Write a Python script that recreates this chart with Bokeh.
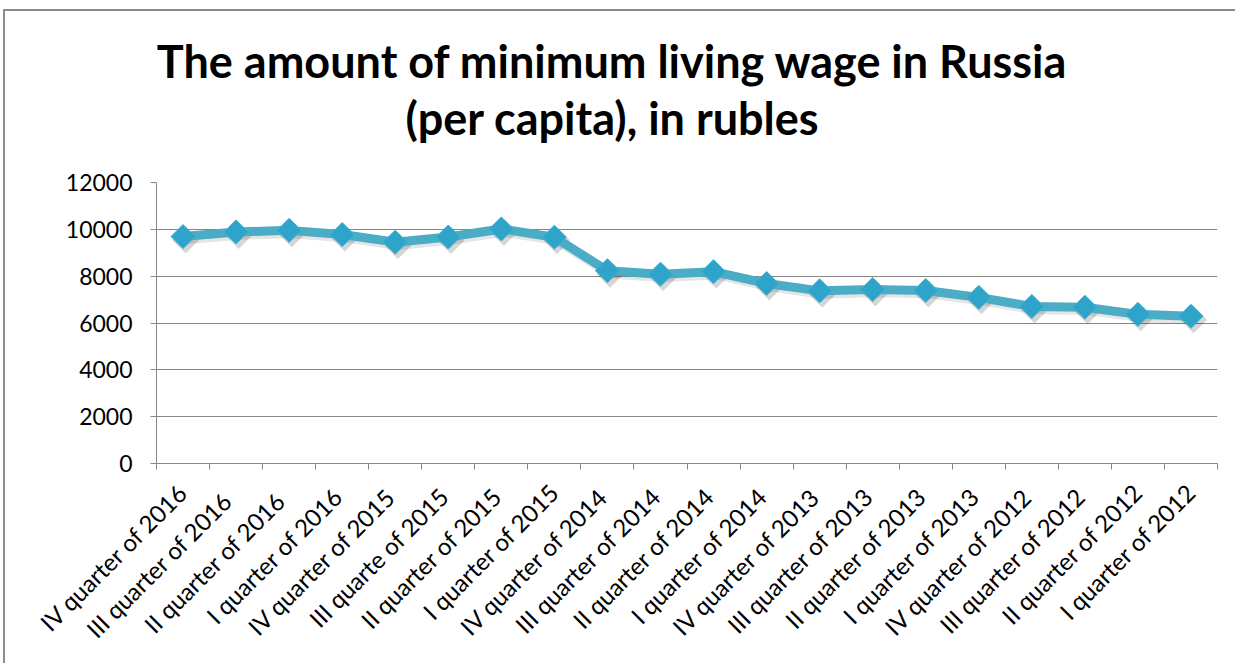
import math
from bokeh.plotting import figure
from bokeh.layouts import column
from bokeh.models import (Range1d, LinearAxis, FixedTicker, Label, ColumnDataSource,
                          CustomJSTickFormatter)
from bokeh.transform import dodge
from bokeh.embed import file_html
from bokeh.resources import INLINE

quarters = [
    "IV quarter of 2016", "III  quarter of  2016", "II  quarter of  2016", "I quarter of  2016",
    "IV quarter of  2015", "III quarte of  2015", "II quarter of  2015", "I quarter of 2015",
    "IV quarter of  2014", "III quarter of  2014", "II quarter of  2014", "I quarter of  2014",
    "IV quarter of  2013", "III quarter of  2013", "II quarter of  2013", "I quarter of  2013",
    "IV quarter of  2012", "III quarter of  2012", "II quarter of 2012", "I quarter of 2012",
]
wage = [9691, 9889, 9956, 9776, 9452, 9673, 10017, 9662, 8234, 8086,
        8192, 7688, 7372, 7429, 7390, 7095, 6705, 6674, 6369, 6287]
y_ticks = [0, 2000, 4000, 6000, 8000, 10000, 12000]
title_lines = ["The amount of minimum living wage in Russia", "(per capita), in rubles"]

n = len(quarters)
xpos = [i + 0.5 for i in range(n)]
src = ColumnDataSource(dict(x=xpos, y=wage, label=quarters))

GRAY = "#868686"
FONT = "Lato"
W = 1230
TITLE_H = 157

# ---- title block ----
tfig = figure(width=W, height=TITLE_H, output_backend="svg", toolbar_location=None,
              x_axis_type=None, y_axis_type=None,
              x_range=Range1d(0, W), y_range=Range1d(0, TITLE_H),
              min_border=0, min_border_left=0, min_border_right=0,
              min_border_top=0, min_border_bottom=0)
tfig.outline_line_color = None
tfig.grid.visible = False
for t, yy in zip(title_lines, [108, 51]):
    tfig.add_layout(Label(x=456, y=yy, x_units="screen", y_units="screen", text=t,
                          text_align="center", text_baseline="middle", text_font=FONT,
                          text_font_style="bold", text_font_size="45px", text_color="black"))

# ---- chart ----
p = figure(width=W, height=495, output_backend="svg", toolbar_location=None,
           x_range=Range1d(0, n), y_range=Range1d(y_ticks[0], y_ticks[-1]),
           x_axis_type=None,
           min_border_left=151, min_border_right=18, min_border_top=14, min_border_bottom=200)
p.outline_line_color = None

p.yaxis.ticker = FixedTicker(ticks=y_ticks)
p.yaxis.axis_line_color = GRAY
p.yaxis.major_tick_line_color = GRAY
p.yaxis.major_tick_out = 6
p.yaxis.major_tick_in = 0
p.yaxis.minor_tick_line_color = None
p.yaxis.major_label_text_font = FONT
p.yaxis.major_label_text_font_size = "23px"
p.yaxis.major_label_text_color = "black"
p.yaxis.major_label_standoff = 18
p.ygrid.grid_line_color = GRAY
p.ygrid.ticker = FixedTicker(ticks=y_ticks)

tick_axis = LinearAxis(ticker=FixedTicker(ticks=list(range(n + 1))),
                       formatter=CustomJSTickFormatter(code="return ''"))
tick_axis.axis_line_color = GRAY
tick_axis.major_tick_line_color = GRAY
tick_axis.major_tick_out = 6
tick_axis.major_tick_in = 0
tick_axis.minor_tick_line_color = None
tick_axis.major_label_text_font_size = "0px"
tick_axis.major_label_standoff = 0
p.add_layout(tick_axis, "below")

label_axis = LinearAxis(ticker=FixedTicker(ticks=xpos),
                        formatter=CustomJSTickFormatter(args=dict(labels=quarters),
                                                        code="return labels[Math.floor(tick)]"))
label_axis.axis_line_color = None
label_axis.major_tick_line_color = None
label_axis.minor_tick_line_color = None
label_axis.major_tick_out = 0
label_axis.major_tick_in = 0
label_axis.major_label_orientation = math.pi / 4
label_axis.major_label_text_font = FONT
label_axis.major_label_text_font_size = "24px"
label_axis.major_label_text_color = "black"
label_axis.major_label_standoff = 18
p.add_layout(label_axis, "below")

# shadows
p.line(x=dodge("x", 0.04, range=p.x_range), y=dodge("y", -120, range=p.y_range), source=src,
       line_color="#000000", line_alpha=0.10, line_width=10)
p.scatter(x=dodge("x", 0.05, range=p.x_range), y=dodge("y", -150, range=p.y_range), source=src,
          marker="square", angle=math.pi / 4, size=19, fill_color="#000000", fill_alpha=0.16,
          line_color=None)

# series
p.line("x", "y", source=src, line_color="#4BACC6", line_width=9)
p.scatter("x", "y", source=src, marker="square", angle=math.pi / 4, size=17,
          fill_color="#2FA4CA", line_color="#3AAFD2", line_width=1)

layout = column(tfig, p, spacing=0,
                styles={"border-left": "2px solid #8c8c8c", "border-top": "2px solid #8c8c8c",
                        "margin-left": "3px", "margin-top": "9px"})

open("out.html", "w").write(file_html(layout, INLINE))
